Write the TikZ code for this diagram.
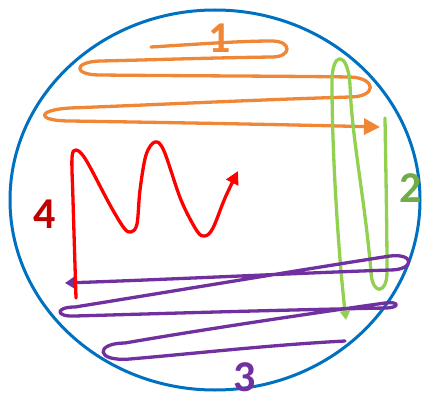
\documentclass[tikz,border=0pt]{standalone}
\usepackage{fontspec}
\setmainfont{Carlito}
\usetikzlibrary{arrows.meta}
\definecolor{cblue}{RGB}{0,112,192}
\definecolor{corange}{RGB}{240,135,55}
\definecolor{cgreen}{RGB}{146,208,80}
\definecolor{cgreenlbl}{RGB}{112,173,71}
\definecolor{cpurple}{RGB}{112,48,160}
\definecolor{cred}{RGB}{255,0,0}
\definecolor{cdarkred}{RGB}{192,0,0}
\tikzset{
  stroke/.style={line width=3.3pt, line cap=round, line join=round},
  lbl/.style={font=\fontsize{44}{44}\selectfont\bfseries, inner sep=0pt},
}
\begin{document}
\begin{tikzpicture}[x=1pt,y=-1pt]
\useasboundingbox (0,0) rectangle (423,396);
% dish
\draw[cblue, line width=3pt] (215,200) ellipse [x radius=205, y radius=190];
% 1 orange
\draw[stroke, corange, -{Triangle[length=16pt,width=16pt]}]
 (151,47) .. controls (200,44) and (240,41) .. (272,41)
 .. controls (292,41) and (292,57) .. (272,57)
 .. controls (200,58) and (150,60) .. (100,61)
 .. controls (73,62) and (73,75) .. (100,75)
 .. controls (200,76) and (280,76) .. (350,77)
 .. controls (377,78) and (377,97) .. (350,97)
 .. controls (250,100) and (150,105) .. (70,108)
 .. controls (36,110) and (36,121) .. (70,121)
 .. controls (200,123) and (300,125) .. (380,127);
% 2 green
\draw[stroke, cgreen, -{Triangle[length=9pt,width=10pt]}]
 (385,118) .. controls (386,180) and (387,230) .. (387,272)
 .. controls (387,295) and (372,295) .. (371,272)
 .. controls (365,200) and (352,140) .. (350,85)
 .. controls (348,50) and (331,50) .. (332,85)
 .. controls (332,150) and (338,250) .. (346,320);
% 3 purple
\draw[stroke, cpurple, -{Triangle[length=10pt,width=12pt]}]
 (345,341) .. controls (270,345) and (200,353) .. (130,359)
 .. controls (95,362) and (95,343) .. (125,343)
 .. controls (200,330) and (300,315) .. (385,303)
 .. controls (400,301) and (400,308) .. (385,308)
 .. controls (280,310) and (180,313) .. (75,316)
 .. controls (55,317) and (55,307) .. (75,307)
 .. controls (180,290) and (300,270) .. (390,256)
 .. controls (415,253) and (415,270) .. (390,270)
 .. controls (300,273) and (180,279) .. (65,283);
% 4 red
\draw[stroke, cred, -{Triangle[length=13pt,width=13pt]}] plot[smooth, tension=0.55] coordinates {
 (76,298) (73,200) (72,158) (76,150) (86,160) (110,205) (124,228) (131,232) (137,224) (140,190)
 (146,155) (155,142) (164,151) (181,200) (197,231) (205,236) (213,228) (225,198) (238,171)};
% labels
\node[lbl, text=corange] (l1) at (220,38) {1};
\node[lbl, text=cgreenlbl] (l2) at (411,188) {2};
\node[lbl, text=cpurple] (l3) at (245,377) {3};
\node[lbl, text=cdarkred] (l4) at (45,214) {4};
\end{tikzpicture}
\end{document}
